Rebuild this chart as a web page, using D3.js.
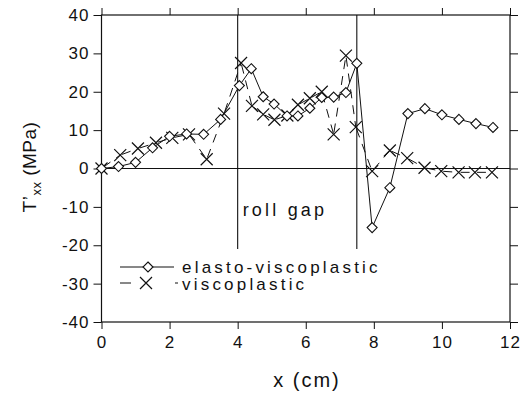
<!DOCTYPE html>
<html>
<head>
<meta charset="utf-8">
<script src="https://cdn.jsdelivr.net/npm/d3@7"></script>
<style>
  body { margin: 0; background: #fff; }
  svg text { font-family: "Liberation Sans", Arial, sans-serif; fill: #111; }
</style>
</head>
<body>
<div id="chart"></div>
<script>
// Values
let elastoX = [0, 0.5, 1, 1.5, 2, 2.5, 3, 3.5, 4.05, 4.4, 4.75, 5.07, 5.45, 5.77, 6.12, 6.47, 6.82, 7.18, 7.5, 7.95, 8.47, 9, 9.5, 10, 10.5, 11, 11.5];
let elastoY = [0, 0.5, 1.6, 5.4, 8.4, 9.0, 8.9, 12.8, 21.6, 26.0, 18.7, 16.8, 13.7, 13.7, 15.7, 18.5, 18.6, 19.8, 27.4, -15.4, -5.0, 14.3, 15.6, 14.0, 12.8, 11.7, 10.7];
let viscoX = [0, 0.55, 1.07, 1.6, 2.08, 2.57, 3.09, 3.6, 4.1, 4.42, 4.75, 5.08, 5.46, 5.77, 6.12, 6.47, 6.82, 7.18, 7.47, 7.95, 8.47, 8.98, 9.49, 9.98, 10.49, 10.97, 11.47];
let viscoY = [0, 3.5, 5.2, 6.7, 8.0, 8.9, 2.4, 14.3, 27.5, 16.3, 14.1, 12.7, 13.8, 16.6, 18.3, 20.0, 8.9, 29.4, 10.8, -0.7, 4.7, 2.7, 0.2, -0.7, -1.0, -1.0, -1.0];

let rollGapX = [4, 7.5];     // vertical markers of the roll gap
let rollGapBottom = -21;     // where those lines stop

let xTicks = [0, 2, 4, 6, 8, 10, 12];
let yTicks = [40, 30, 20, 10, 0, -10, -20, -30, -40];
let yTickLabels = ['40', '30', '20', '10', '0', '-10', '-20', '-30', '-40'];

let W = 523, H = 393;
let L = 101.5, R = 510, T = 15, B = 322;

let svg = d3.select('#chart').append('svg')
    .attr('width', W)
    .attr('height', H);

let xScale = d3.scaleLinear().domain([0, 12]).range([L, R]);
let yScale = d3.scaleLinear().domain([-40, 40]).range([B, T]);

let ink = '#111';

// Axes: labelled on the left and bottom, bare ticks on top and right
let bottomAxis = svg.append('g')
    .attr('transform', `translate(0, ${B})`)
    .call(d3.axisBottom(xScale).tickValues(xTicks).tickSize(7).tickPadding(7).tickSizeOuter(0));
let leftAxis = svg.append('g')
    .attr('transform', `translate(${L}, 0)`)
    .call(d3.axisLeft(yScale).tickValues(yTicks).tickSize(8).tickPadding(4).tickSizeOuter(0)
        .tickFormat((d, i) => yTickLabels[i]));
let topAxis = svg.append('g')
    .attr('transform', `translate(0, ${T})`)
    .call(d3.axisTop(xScale).tickValues(xTicks).tickSize(7).tickSizeOuter(0).tickFormat(''));
let rightAxis = svg.append('g')
    .attr('transform', `translate(${R}, 0)`)
    .call(d3.axisRight(yScale).tickValues(yTicks).tickSize(8).tickSizeOuter(0).tickFormat(''));

[bottomAxis, leftAxis, topAxis, rightAxis].forEach(g => {
    g.select('.domain').remove();
    g.selectAll('line').attr('stroke', ink).attr('stroke-width', 1);
    g.selectAll('text')
        .style('font-family', '"Liberation Sans", Arial, sans-serif')
        .style('font-size', '17px')
        .style('letter-spacing', '1px')
        .attr('fill', ink);
});

// Frame
svg.append('rect')
    .attr('x', L).attr('y', T)
    .attr('width', R - L).attr('height', B - T)
    .attr('fill', 'none')
    .attr('stroke', ink)
    .attr('stroke-width', 1.2);

// Zero line
svg.append('line')
    .attr('x1', L).attr('x2', R)
    .attr('y1', yScale(0)).attr('y2', yScale(0))
    .attr('stroke', ink).attr('stroke-width', 1.2);

// Roll gap lines
svg.selectAll('.gap')
    .data(rollGapX)
    .enter()
    .append('line')
    .attr('class', 'gap')
    .attr('x1', d => xScale(d)).attr('x2', d => xScale(d))
    .attr('y1', yScale(40)).attr('y2', yScale(rollGapBottom))
    .attr('stroke', ink).attr('stroke-width', 1.1);

svg.append('text')
    .attr('x', xScale(rollGapX[0]) + 5)
    .attr('y', 216)
    .style('font-size', '18px')
    .style('letter-spacing', '3.2px')
    .text('roll gap');

// Viscoplastic: dashed segments that start with a gap next to each marker
let viscoPts = viscoX.map((x, i) => [xScale(x), yScale(viscoY[i])]);
svg.append('g')
    .selectAll('line')
    .data(d3.pairs(viscoPts))
    .enter()
    .append('line')
    .attr('x1', d => d[0][0]).attr('y1', d => d[0][1])
    .attr('x2', d => d[1][0]).attr('y2', d => d[1][1])
    .attr('stroke', ink)
    .attr('stroke-width', 1)
    .attr('stroke-dasharray', '9 7')
    .attr('stroke-dashoffset', 14);

let xMark = 6;
function crossPath(p) {
    return `M${p[0] - xMark},${p[1] - xMark}L${p[0] + xMark},${p[1] + xMark}` +
        `M${p[0] - xMark},${p[1] + xMark}L${p[0] + xMark},${p[1] - xMark}`;
}
svg.append('g')
    .selectAll('path')
    .data(viscoPts)
    .enter()
    .append('path')
    .attr('d', crossPath)
    .attr('stroke', ink)
    .attr('stroke-width', 1.2)
    .attr('fill', 'none');

// Elasto-viscoplastic: solid line with open diamonds
let elastoPts = elastoX.map((x, i) => [xScale(x), yScale(elastoY[i])]);
svg.append('path')
    .datum(elastoPts)
    .attr('d', d3.line())
    .attr('fill', 'none')
    .attr('stroke', ink)
    .attr('stroke-width', 1);

let dia = 5;
function diamondPath(p) {
    return `M${p[0]},${p[1] - dia}L${p[0] + dia},${p[1]}L${p[0]},${p[1] + dia}L${p[0] - dia},${p[1]}Z`;
}
svg.append('g')
    .selectAll('path')
    .data(elastoPts)
    .enter()
    .append('path')
    .attr('d', diamondPath)
    .attr('fill', '#fff')
    .attr('stroke', ink)
    .attr('stroke-width', 1.1);

// Legend
let legend = svg.append('g');
legend.append('line')
    .attr('x1', 120).attr('x2', 174).attr('y1', 267).attr('y2', 267)
    .attr('stroke', ink);
legend.append('path')
    .attr('d', diamondPath([148, 267]))
    .attr('fill', '#fff').attr('stroke', ink).attr('stroke-width', 1.1);
legend.append('text')
    .attr('x', 182).attr('y', 267).attr('dy', '0.33em')
    .style('font-size', '17px')
    .style('letter-spacing', '3.2px')
    .text('elasto-viscoplastic');

legend.append('line')
    .attr('x1', 120).attr('x2', 131).attr('y1', 283).attr('y2', 283)
    .attr('stroke', ink);
legend.append('path')
    .attr('d', crossPath([146, 283]))
    .attr('stroke', ink).attr('stroke-width', 1.2).attr('fill', 'none');
legend.append('line')
    .attr('x1', 175).attr('x2', 178).attr('y1', 283).attr('y2', 283)
    .attr('stroke', ink);
legend.append('text')
    .attr('x', 182).attr('y', 283).attr('dy', '0.4em')
    .style('font-size', '17px')
    .style('letter-spacing', '3.2px')
    .text('viscoplastic');

// Axis titles
svg.append('text')
    .attr('x', 307)
    .attr('y', 387)
    .attr('text-anchor', 'middle')
    .style('font-size', '20px')
    .style('letter-spacing', '2px')
    .text('x (cm)');

let yTitle = svg.append('text')
    .attr('transform', `translate(36, 167) rotate(-90)`)
    .attr('text-anchor', 'middle')
    .style('font-size', '19px')
    .style('letter-spacing', '0.5px');
yTitle.append('tspan').text('T\u2019');
yTitle.append('tspan').attr('dy', 5).style('font-size', '13px').text('xx');
yTitle.append('tspan').attr('dy', -5).text(' (MPa)');
</script>
</body>
</html>
